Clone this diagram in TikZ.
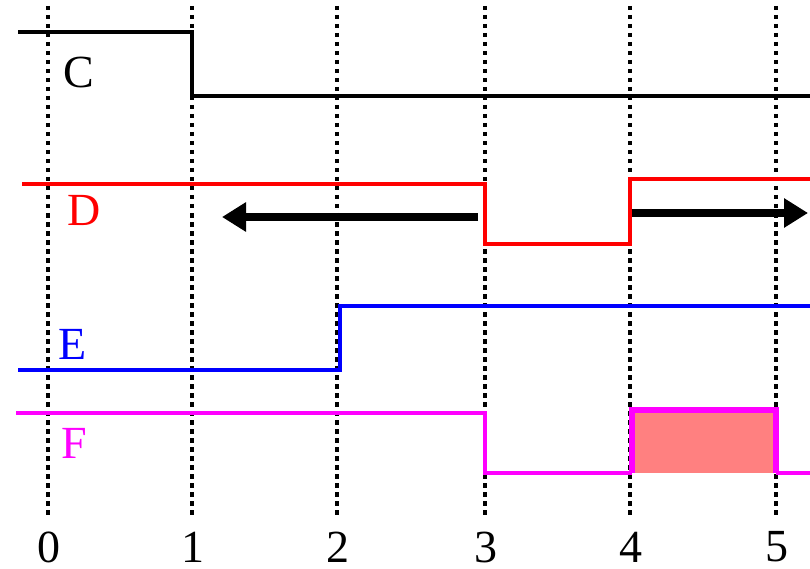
\documentclass[tikz,border=0pt]{standalone}
\usepackage{fontspec}
\setmainfont{Liberation Serif}
\usetikzlibrary{arrows.meta}
\definecolor{salmonfill}{HTML}{FF8080}
\definecolor{magentaline}{HTML}{FF00FF}
\definecolor{redline}{HTML}{FF0000}
\definecolor{blueline}{HTML}{0000FF}
\begin{document}
\begin{tikzpicture}[x=1pt,y=-1pt,
  grid/.style={line width=4pt,dash pattern=on 4.5pt off 4.5pt,black},
  sig/.style={line width=4.5pt,line join=miter},
  lab/.style={font=\fontsize{46}{46}\selectfont,inner sep=0pt},
  tick/.style={font=\fontsize{46}{46}\selectfont,inner sep=0pt},
  bigarrow/.style={line width=8pt,-{Triangle[length=24pt,width=28pt]}}]
\useasboundingbox (0,0) rectangle (810,569);
% grid lines
\foreach \x/\n in {48/0,192/1,337/2,485/3,630/4,776/5}{
  \draw[grid] (\x,6) -- (\x,518);
  \node[tick] (t\n) at (\x+1,547) {\n};
}
% F fill
\fill[salmonfill] (632,410) rectangle (776,473);
% C
\draw[sig,black] (18,32) -- (192,32) -- (192,96) -- (810,96);
\node[lab,black] (lc) at (79,72) {C};
% D
\draw[sig,redline] (22,184) -- (485,184) -- (485,244) -- (630,244) -- (630,179) -- (810,179);
\node[lab,redline] (ld) at (84,210) {D};
\coordinate (dl0) at (478,217);
\coordinate (dl1) at (222,217);
\coordinate (dr0) at (632,213);
\coordinate (dr1) at (808,213);
\draw[bigarrow] (dl0) -- (dl1);
\draw[bigarrow] (dr0) -- (dr1);
% E
\draw[sig,blueline] (18,370) -- (340,370) -- (340,306) -- (810,306);
\node[lab,blueline] (le) at (73,344) {E};
% F
\draw[sig,magentaline] (16,413) -- (485,413) -- (485,473) -- (632,473);
\draw[line width=5.5pt,magentaline,line join=miter] (632,473) -- (632,410) -- (776,410) -- (776,473);
\draw[sig,magentaline] (776,473) -- (810,473);
\node[lab,magentaline] (lf) at (74,443) {F};
\end{tikzpicture}
\end{document}
